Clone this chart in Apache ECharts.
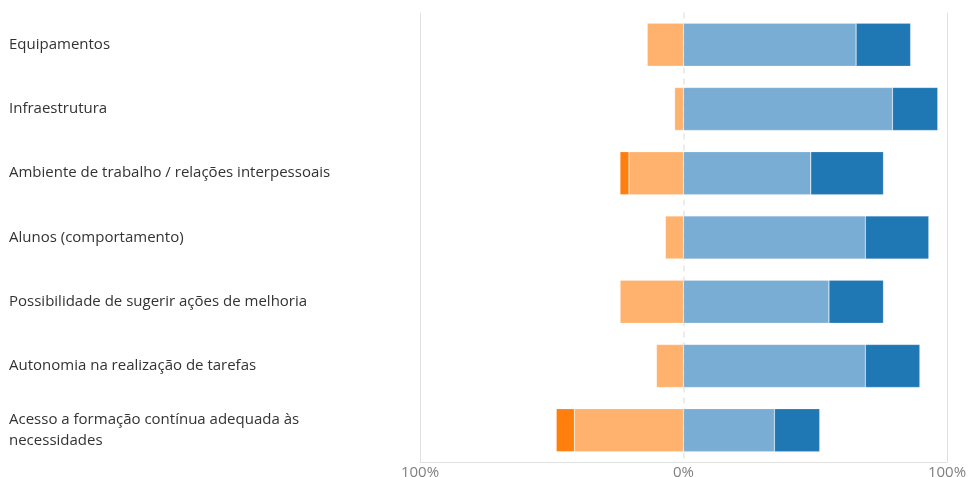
<!DOCTYPE html>
<html>
<head>
<meta charset="utf-8">
<script src="https://cdn.jsdelivr.net/npm/echarts@6/dist/echarts.min.js"></script>
<style>
html,body{margin:0;padding:0;background:#fff;}
#c{width:969px;height:477px;}
</style>
</head>
<body>
<div id="c"></div>
<script>
const categories = [
  'Equipamentos',
  'Infraestrutura',
  'Ambiente de trabalho / relações interpessoais',
  'Alunos (comportamento)',
  'Possibilidade de sugerir ações de melhoria',
  'Autonomia na realização de tarefas',
  'Acesso a formação contínua adequada às\nnecessidades'
];
const insatisfeito = [-13.8, -3.4, -20.7, -6.9, -24.1, -10.3, -41.4];
const muitoInsatisfeito = [0, 0, -3.4, 0, 0, 0, -6.9];
const satisfeito = [65.5, 79.3, 48.3, 69.0, 55.2, 69.0, 34.5];
const muitoSatisfeito = [20.7, 17.2, 27.6, 24.1, 20.7, 20.7, 17.2];
const xTicks = [-100, 0, 100];

const chart = echarts.init(document.getElementById('c'), null, {renderer: 'canvas'});
const font = '"Open Sans", "Noto Sans", sans-serif';
function barSeries(name, data, color) {
  return {
    name: name,
    type: 'bar',
    stack: 'total',
    data: data,
    barWidth: 43,
    itemStyle: {color: color, borderColor: 'rgba(255,255,255,0.3)', borderWidth: 0.6},
    emphasis: {disabled: true},
    silent: true
  };
}
chart.setOption({
  animation: false,
  grid: {left: 420, right: 22, top: 12.6, bottom: 14.7, containLabel: false, outerBoundsMode: 'none'},
  xAxis: [{
    type: 'value',
    min: xTicks[0], max: xTicks[xTicks.length - 1], interval: 100,
    axisLine: {show: true, lineStyle: {color: '#e2e2e2', width: 1}},
    axisTick: {show: false},
    axisLabel: {
      margin: 3,
      color: '#808080',
      fontSize: 15,
      fontFamily: font,
      formatter: v => Math.abs(v) + '%'
    },
    splitLine: {show: true, lineStyle: {color: ['#e2e2e2', 'rgba(0,0,0,0)', '#e2e2e2'], width: 1}}
  }, {
    type: 'value',
    position: 'top',
    min: xTicks[0], max: xTicks[xTicks.length - 1], interval: 100,
    axisLine: {show: false},
    axisTick: {show: false},
    axisLabel: {show: false},
    splitLine: {show: true, lineStyle: {color: ['rgba(0,0,0,0)', '#e6e6e6', 'rgba(0,0,0,0)'], width: 1.5, type: [6, 5]}}
  }],
  yAxis: {
    type: 'category',
    data: categories,
    inverse: true,
    axisLine: {show: false},
    axisTick: {show: false},
    splitLine: {show: false},
    axisLabel: {
      align: 'left',
      margin: 411,
      color: '#333333',
      fontSize: 15,
      lineHeight: 21,
      fontFamily: font
    }
  },
  series: [
    barSeries('Insatisfeito', insatisfeito, '#ffb26e'),
    barSeries('Muito insatisfeito', muitoInsatisfeito, '#ff7f0e'),
    barSeries('Satisfeito', satisfeito, '#7aadd3'),
    barSeries('Muito satisfeito', muitoSatisfeito, '#1f77b4')
  ]
});
</script>
</body>
</html>
